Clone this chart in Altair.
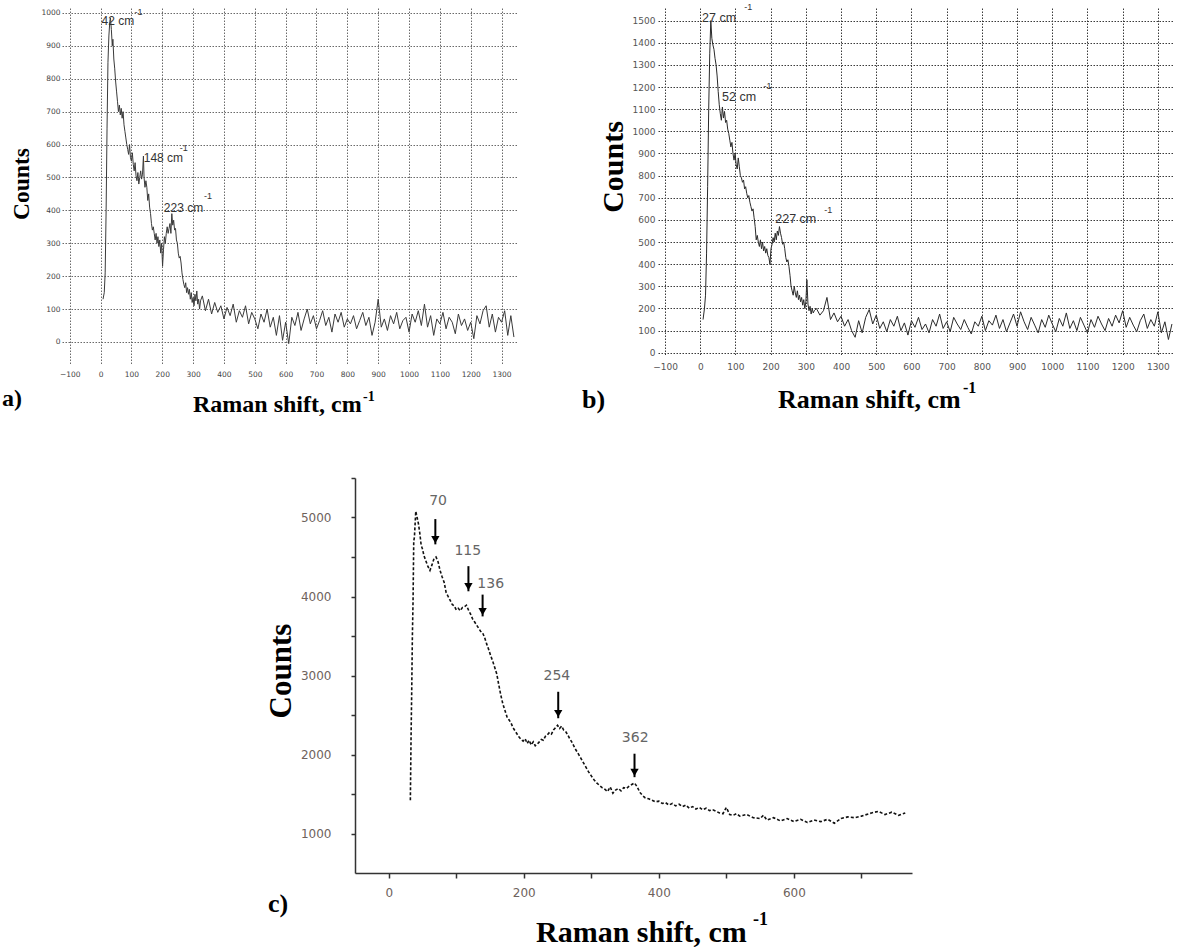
import altair as alt
import pandas as pd

# ---------------- panel a ----------------
a_shift_peak = [8, 12, 15, 18, 21, 24, 27, 30, 32, 35, 38, 40, 43, 46, 49, 52, 55, 58, 61, 64,
                67, 70, 73, 76, 79, 82, 85, 88, 91, 94, 97, 100, 103, 106, 109, 112, 115, 118, 121, 124,
                127, 130, 133, 136, 139, 141, 144, 147, 150, 153, 156, 159, 162, 165, 168, 171, 174, 177, 180, 183,
                186, 189, 192, 195, 198, 201, 204, 207, 210, 213, 216, 219, 222, 225, 228, 231, 234, 237, 240, 243,
                246, 249, 252, 255, 258, 261, 264, 267, 270, 273, 276, 279, 282, 285, 288, 291, 294, 297, 300, 303,
                306, 309, 312, 315, 318, 321, 324]
a_counts_peak = [130, 150, 210, 400, 650, 850, 930, 975, 985, 950, 900, 920, 860, 830, 790, 760, 730, 700, 720, 690,
                 710, 680, 700, 660, 640, 620, 600, 585, 570, 600, 560, 550, 575, 540, 520, 545, 505, 490, 515, 480,
                 500, 520, 495, 510, 565, 500, 470, 490, 470, 430, 450, 410, 390, 360, 340, 350, 330, 310, 330, 300,
                 320, 290, 310, 270, 300, 230, 280, 320, 300, 330, 350, 330, 345, 360, 330, 390, 355, 370, 340, 345,
                 310, 300, 270, 255, 260, 240, 210, 190, 175, 165, 180, 150, 165, 145, 160, 130, 150, 120, 135, 110,
                 145, 125, 155, 115, 130, 100, 125]
a_shift_tail = [330, 340, 350, 360, 370, 380, 390, 400, 410, 420, 430, 440, 450, 460, 470, 480, 490, 500, 510, 520,
                530, 540, 550, 560, 570, 580, 590, 600, 610, 620, 630, 640, 650, 660, 670, 680, 690, 700, 710, 720,
                730, 740, 750, 760, 770, 780, 790, 800, 810, 820, 830, 840, 850, 860, 870, 880, 890, 900, 910, 920,
                930, 940, 950, 960, 970, 980, 990, 1000, 1010, 1020, 1030, 1040, 1050, 1060, 1070, 1080, 1090, 1100, 1110, 1120,
                1130, 1140, 1150, 1160, 1170, 1180, 1190, 1200, 1210, 1220, 1230, 1240, 1250, 1260, 1270, 1280, 1290, 1300, 1310, 1320,
                1330, 1340]
a_counts_tail = [140, 95, 130, 85, 120, 90, 110, 70, 105, 80, 115, 60, 95, 75, 110, 55, 90, 70, 40, 85,
                 60, 100, 45, 75, 20, 80, 5, 60, -5, 75, 50, 90, 35, 70, 100, 55, 80, 40, 65, 95,
                 50, 75, 30, 85, 60, 90, 45, 70, 55, 80, 40, 65, 90, 50, 75, 20, 60, 130, 45, 70,
                 35, 80, 55, 90, 40, 65, 75, 30, 85, 60, 95, 50, 115, 45, 80, 20, 70, 55, 90, 40,
                 75, 60, 25, 85, 50, 70, 35, 60, 10, 80, 55, 95, 110, 45, 85, 30, 75, 60, 95, 20,
                 80, 15]
a_ticks_x = [-100, 0, 100, 200, 300, 400, 500, 600, 700, 800, 900, 1000, 1100, 1200, 1300]
a_ticks_y = [0, 100, 200, 300, 400, 500, 600, 700, 800, 900, 1000]
a_ann_text = ["42 cm", "148 cm", "223 cm"]
a_ann_x = [3, 140, 205]
a_ann_y = [975, 560, 408]
a_sup_x = [110, 257, 335]
a_sup_y = [1002, 590, 443]

# ---------------- panel b ----------------
b_shift_peak = [8, 12, 15, 18, 21, 24, 27, 30, 33, 36, 39, 42, 45, 48, 51, 54, 57, 60, 63, 66,
                69, 72, 75, 78, 81, 84, 87, 90, 93, 96, 99, 102, 105, 108, 111, 114, 117, 120, 123, 126,
                129, 132, 135, 138, 141, 144, 147, 150, 153, 156, 159, 162, 165, 168, 171, 174, 177, 180, 183, 186,
                189, 192, 195, 198, 201, 204, 207, 210, 213, 216, 219, 222, 225, 228, 231, 234, 237, 240, 243, 246,
                249, 252, 255, 258, 261, 264, 267, 270, 273, 276, 279, 282, 285, 288, 291, 294, 297, 300, 303, 306,
                309, 312, 315, 318, 321, 324]
b_counts_peak = [150, 200, 260, 450, 750, 1100, 1350, 1500, 1420, 1390, 1370, 1330, 1300, 1250, 1180, 1120, 1080, 1050, 1110, 1060,
                 1090, 1040, 1050, 1010, 990, 960, 930, 950, 900, 870, 900, 850, 830, 880, 840, 800, 790, 770, 780, 740,
                 750, 720, 700, 710, 680, 660, 640, 650, 610, 570, 510, 530, 500, 480, 510, 470, 500, 460, 480, 450,
                 470, 440, 430, 400, 470, 490, 520, 500, 540, 510, 550, 530, 570, 540, 520, 490, 500, 470, 430, 410,
                 420, 390, 350, 300, 280, 260, 300, 270, 250, 280, 240, 260, 230, 250, 215, 240, 200, 230, 330, 220,
                 190, 210, 175, 200, 180, 190]
b_shift_tail = a_shift_tail
b_counts_tail = [200, 170, 190, 250, 150, 180, 140, 165, 120, 150, 100, 70, 145, 90, 160, 195, 130, 170, 110, 140,
                 95, 150, 120, 165, 100, 135, 80, 145, 115, 160, 105, 130, 90, 150, 120, 175, 110, 140, 95, 160,
                 130, 105, 150, 115, 85, 140, 120, 165, 100, 145, 125, 170, 110, 150, 95, 135, 175, 120, 185, 140,
                 105, 160, 125, 90, 150, 115, 170, 130, 95, 155, 120, 180, 110, 145, 100, 160, 125, 90, 150, 115,
                 165, 130, 100, 155, 120, 170, 135, 190, 115, 160, 125, 95, 145, 175, 110, 150, 120, 185, 90, 140,
                 60, 130]
b_ticks_x = a_ticks_x
b_ticks_y = [0, 100, 200, 300, 400, 500, 600, 700, 800, 900, 1000, 1100, 1200, 1300, 1400, 1500]
b_ann_text = ["27 cm", "52 cm", "227 cm"]
b_ann_x = [5, 62, 213]
b_ann_y = [1511, 1157, 603]
b_sup_x = [125, 180, 352]
b_sup_y = [1561, 1205, 645]

# ---------------- panel c ----------------
c_shift = [32, 33, 34, 35, 36, 37, 38, 40, 42, 44, 46, 48, 50, 52, 55, 58, 61, 64, 67, 70,
           73, 76, 79, 82, 85, 88, 91, 94, 97, 100, 103, 106, 109, 112, 115, 118, 121, 124, 127, 130,
           133, 136, 139, 142, 145, 148, 151, 154, 157, 160, 163, 166, 169, 172, 175, 178, 181, 184, 187, 190,
           193, 196, 199, 202, 205, 208, 211, 214, 217, 220, 223, 226, 229, 232, 235, 238, 241, 244, 247, 250,
           253, 256, 259, 262, 265, 268, 271, 274, 277, 280, 284, 288, 292, 296, 300, 304, 308, 312, 316, 320,
           324, 328, 332, 336, 340, 344, 348, 352, 356, 360, 364, 368, 372, 376, 380, 385, 390, 395, 400, 405,
           410, 415, 420, 425, 430, 435, 440, 445, 450, 455, 460, 465, 470, 475, 480, 485, 490, 495, 500, 505,
           510, 515, 520, 530, 540, 550, 555, 560, 570, 580, 590, 600, 610, 620, 630, 640, 650, 660, 670, 680,
           690, 700, 715, 725, 735, 745, 755, 765]
c_counts = [1420, 2200, 2800, 3500, 3950, 4700, 4750, 5080, 5000, 4920, 4800, 4650, 4600, 4520, 4450, 4380, 4330, 4400, 4480, 4500,
            4440, 4330, 4250, 4180, 4050, 4000, 3950, 3900, 3880, 3830, 3850, 3820, 3860, 3870, 3890, 3830, 3780, 3720, 3680, 3640,
            3600, 3560, 3540, 3480, 3400, 3330, 3250, 3180, 3100, 3020, 2880, 2750, 2640, 2560, 2480, 2440, 2400, 2340, 2300, 2260,
            2220, 2190, 2170, 2200, 2140, 2180, 2120, 2160, 2110, 2130, 2160, 2190, 2180, 2230, 2250, 2280, 2260, 2310, 2340, 2370,
            2330, 2360, 2310, 2290, 2250, 2200, 2160, 2110, 2060, 2020, 1960, 1900, 1840, 1780, 1730, 1680, 1640, 1610, 1580, 1560,
            1530, 1590, 1510, 1550, 1570, 1540, 1580, 1570, 1600, 1620, 1640, 1590, 1520, 1480, 1450, 1440, 1420, 1400, 1410, 1380,
            1390, 1360, 1380, 1350, 1370, 1340, 1360, 1320, 1340, 1310, 1330, 1300, 1320, 1290, 1300, 1280, 1260, 1250, 1330, 1240,
            1230, 1250, 1220, 1240, 1200, 1190, 1230, 1170, 1200, 1160, 1190, 1150, 1180, 1140, 1170, 1150, 1180, 1130, 1190, 1210,
            1200, 1220, 1260, 1280, 1240, 1270, 1230, 1260]
c_ticks_x = [0, 100, 200, 300, 400, 500, 600, 700]
c_ticks_y = [1000, 1500, 2000, 2500, 3000, 3500, 4000, 4500, 5000, 5500]
c_peak_labels = ["70", "115", "136", "254", "362"]
c_arrow_x = [69, 118, 139, 251, 364]
c_arrow_top = [4980, 4384, 4024, 2794, 2010]
c_arrow_bot = [4660, 4066, 3748, 2459, 1713]
c_label_x = [73, 117, 151, 249, 365]
c_label_y = [5211, 4575, 4164, 2994, 2214]

# ---------------- texts ----------------
y_title = "Counts"
x_title = "Raman shift, cm"
sup_text = "-1"
panel_tags = ["a)", "b)", "c)"]

SERIF = "Liberation Serif"
SANS = "Liberation Sans"
TICKF = "DejaVu Sans"


def vtext(txt, x, y, size, angle=0, align="left", baseline="alphabetic", weight="bold", font=SERIF, color="black"):
    return alt.Chart(pd.DataFrame({"t": [txt]})).mark_text(
        font=font, fontSize=size, fontWeight=weight, angle=angle, align=align,
        baseline=baseline, color=color
    ).encode(x=alt.value(x), y=alt.value(y), text="t:N")


def grid_panel(shift, counts, xdom, ydom, xt, yt, lab_size, lab_color, grid_color,
               line_color, lab_pad_x, lab_pad_y, ann, sup, ann_size, sup_size):
    df = pd.DataFrame({"shift": shift, "counts": counts})
    ax_common = dict(title=None, domain=False, ticks=False, grid=True, gridDash=[1.5, 1.5],
                     gridColor=grid_color, gridWidth=1, labelFont=TICKF, labelFontSize=lab_size,
                     labelColor=lab_color, format="d", labelFlush=False, labelOverlap=False,
                     tickCount=100)
    x = alt.X("shift:Q", scale=alt.Scale(domain=xdom, nice=False, zero=False),
              axis=alt.Axis(values=xt, labelPadding=lab_pad_x, **ax_common))
    y = alt.Y("counts:Q", scale=alt.Scale(domain=ydom, nice=False, zero=False),
              axis=alt.Axis(values=yt, labelPadding=lab_pad_y, **ax_common))
    line = alt.Chart(df).mark_line(color=line_color, strokeWidth=1).encode(x=x, y=y)
    adf = pd.DataFrame({"shift": ann[1], "counts": ann[2], "label": ann[0]})
    ann_l = alt.Chart(adf).mark_text(align="left", baseline="middle", font=SANS, fontSize=ann_size,
                                     color="#333333").encode(x="shift:Q", y="counts:Q", text="label:N")
    sdf = pd.DataFrame({"shift": sup[0], "counts": sup[1], "label": [sup_text] * len(sup[0])})
    sup_l = alt.Chart(sdf).mark_text(align="left", baseline="middle", font=SANS, fontSize=sup_size,
                                     color="#333333").encode(x="shift:Q", y="counts:Q", text="label:N")
    return line, ann_l, sup_l


# panel a
la, aa, sa = grid_panel(a_shift_peak + a_shift_tail, a_counts_peak + a_counts_tail,
                        [-125, 1350], [-70, 1015], a_ticks_x, a_ticks_y,
                        7.5, "#444444", "#6a6a6a", "#3a3a3a", 5, 2,
                        (a_ann_text, a_ann_x, a_ann_y), (a_sup_x, a_sup_y), 12, 9)
panel_a = alt.layer(
    la, aa, sa,
    vtext(y_title, -40, 176, 23.5, angle=270, align="center", baseline="middle"),
    vtext(x_title, 131, 404, 24),
    vtext(sup_text, 301, 389, 14, baseline="middle"),
    vtext(panel_tags[0], -60, 398, 24),
).properties(width=455, height=357)

# panel b
lb, ab, sb = grid_panel(b_shift_peak + b_shift_tail, b_counts_peak + b_counts_tail,
                        [-120, 1343], [-10, 1557], b_ticks_x, b_ticks_y,
                        9, "#555555", "#3a3a3a", "#2a2a2a", 7, 3,
                        (b_ann_text, b_ann_x, b_ann_y), (b_sup_x, b_sup_y), 12.5, 9)
panel_b = alt.layer(
    lb, ab, sb,
    vtext(y_title, -44, 159, 30, angle=270, align="center", baseline="middle"),
    vtext(x_title, 120, 400, 26),
    vtext(sup_text, 305, 380, 16, baseline="middle"),
    vtext(panel_tags[1], -76, 400, 26),
).properties(width=515, height=347)

# panel c
dfc = pd.DataFrame({"shift": c_shift, "counts": c_counts})
c_axis_common = dict(title=None, grid=False, domainColor="#333333", domainWidth=1.5,
                     tickColor="#333333", tickWidth=1.5, labelFont=TICKF, labelFontSize=12,
                     labelColor="#6e625c", format="d", labelOverlap=False, tickCount=100)
xc = alt.X("shift:Q", scale=alt.Scale(domain=[-50, 775], nice=False, zero=False),
           axis=alt.Axis(values=c_ticks_x, tickSize=5, labelPadding=9,
                         labelExpr="datum.value % 200 === 0 ? datum.label : ''", **c_axis_common))
yc = alt.Y("counts:Q", scale=alt.Scale(domain=[500, 5500], nice=False, zero=False),
           axis=alt.Axis(values=c_ticks_y, tickSize=4, labelPadding=20,
                         labelExpr="datum.value % 1000 === 0 ? datum.label : ''", **c_axis_common))
line_c = alt.Chart(dfc).mark_line(color="#111111", strokeWidth=1.6, strokeDash=[3, 2]).encode(x=xc, y=yc)

arr = pd.DataFrame({"shift": c_arrow_x, "top": c_arrow_top, "bot": c_arrow_bot,
                    "head": [b + 60 for b in c_arrow_bot]})
shaft = alt.Chart(arr).mark_rule(color="black", strokeWidth=2).encode(
    x="shift:Q", y="top:Q", y2="bot:Q")
heads = alt.Chart(arr).mark_point(shape="triangle-down", filled=True, size=70, color="black",
                                  opacity=1).encode(x="shift:Q", y="head:Q")
labc = pd.DataFrame({"shift": c_label_x, "counts": c_label_y, "label": c_peak_labels})
lab_c = alt.Chart(labc).mark_text(font=TICKF, fontSize=14, color="#666666", baseline="middle").encode(
    x="shift:Q", y="counts:Q", text="label:N")

panel_c = alt.layer(
    line_c, shaft, heads, lab_c,
    vtext(y_title, -73, 193, 31, angle=270, align="center", baseline="middle"),
    vtext(x_title, 181, 464, 30),
    vtext(sup_text, 398, 442, 18, baseline="middle"),
    vtext(panel_tags[2], -87, 434, 26),
).properties(width=557, height=395)

# blank spacer that pushes panel c to the right
spacer = alt.Chart(pd.DataFrame({"t": [""]})).mark_text().encode(text="t:N").properties(width=204, height=1)

top = alt.hconcat(panel_a, panel_b, spacing=141, bounds="flush")
bottom = alt.hconcat(spacer, panel_c, spacing=0)
chart = alt.vconcat(top, bottom, spacing=55).properties(
    padding={"left": 2, "top": 3, "right": 0, "bottom": 0}
).configure_view(strokeWidth=0)

chart.save("out.html", embed_options={"renderer": "svg", "actions": False})
